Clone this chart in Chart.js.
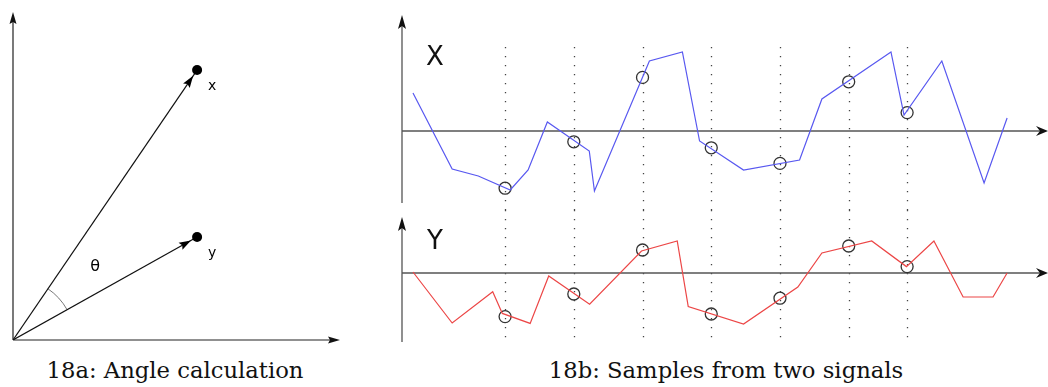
<!DOCTYPE html>
<html>
<head>
<meta charset="utf-8">
<script src="https://cdn.jsdelivr.net/npm/chart.js@4"></script>
<style>
  body { margin: 0; background: #fff; width: 1048px; height: 387px; position: relative; overflow: hidden; }
  canvas { position: absolute; }
  .caption { position: absolute; top: 357px; font-family: 'DejaVu Serif', serif; font-size: 22.7px; color: #111; white-space: nowrap; transform: translateX(-50%); }
</style>
</head>
<body>
<canvas id="angle" width="350" height="355" style="left:0;top:0"></canvas>
<canvas id="sigX" width="658" height="210" style="left:390px;top:0"></canvas>
<canvas id="sigY" width="658" height="140" style="left:390px;top:210px"></canvas>
<div class="caption" style="left:175px">18a: Angle calculation</div>
<div class="caption" style="left:726px">18b: Samples from two signals</div>
<script>
// 18a: two vectors from the origin
const vecNames = ['x', 'y'];
const vecX = [5.63, 5.63];
const vecY = [8.23, 3.14];

// 18b: signal X (time, value)
const xT   = [0.32, 1.46, 2.22, 3.15, 3.67, 4.23, 5.45, 5.6, 7.2, 8.16, 8.66, 9.94, 11.57, 12.22, 14.23, 14.61, 15.71, 16.94, 17.61];
const xVal = [0.95, -0.95, -1.125, -1.475, -0.975, 0.225, -0.5, -1.5, 1.75, 1.975, -0.25, -0.975, -0.725, 0.8, 1.975, 0.4, 1.75, -1.3, 0.325];

// 18b: signal Y (time, value)
const yT   = [0.32, 1.46, 2.64, 2.92, 3.73, 4.27, 5.46, 6.97, 8.01, 8.33, 9.94, 11.52, 12.22, 13.67, 14.68, 15.48, 16.33, 17.2, 17.61];
const yVal = [0.025, -1.25, -0.47, -1.01, -1.26, -0.075, -0.78, 0.55, 0.8, -0.84, -1.275, -0.35, 0.5, 0.8, 0.16, 0.8, -0.6, -0.6, 0];

// sampling instants and the sampled values
const sampleT = [3, 5, 7, 9, 11, 13, 14.7];
const sampleX = [-1.43, -0.27, 1.34, -0.42, -0.81, 1.23, 0.46];
const sampleY = [-1.09, -0.525, 0.575, -1.025, -0.63, 0.675, 0.16];

function pts(xs, ys) {
  return xs.map((x, i) => ({ x: x, y: ys[i] }));
}

function arrowHead(ctx, x, y, ang, len, wid, notch) {
  ctx.save();
  ctx.translate(x, y);
  ctx.rotate(ang);
  ctx.beginPath();
  ctx.moveTo(0, 0);
  ctx.lineTo(-len, -wid / 2);
  ctx.lineTo(-len + notch, 0);
  ctx.lineTo(-len, wid / 2);
  ctx.closePath();
  ctx.fill();
  ctx.restore();
}

function baseOptions(pad, xr, yr) {
  return {
    responsive: false,
    animation: false,
    events: [],
    layout: { padding: pad, autoPadding: false },
    plugins: { legend: { display: false }, tooltip: { enabled: false } },
    scales: {
      x: { type: 'linear', display: false, min: xr[0], max: xr[1] },
      y: { type: 'linear', display: false, min: yr[0], max: yr[1] }
    }
  };
}

// ---------- 18a ----------
const angleDecor = {
  id: 'angleDecor',
  beforeDatasetsDraw(chart) {
    const ctx = chart.ctx, a = chart.chartArea;
    const sx = chart.scales.x, sy = chart.scales.y;
    const ox = sx.getPixelForValue(0), oy = sy.getPixelForValue(0);
    ctx.save();
    ctx.strokeStyle = '#222';
    ctx.fillStyle = '#111';
    ctx.lineWidth = 1.2;
    ctx.beginPath();
    ctx.moveTo(ox, oy); ctx.lineTo(ox, a.top + 4);
    ctx.moveTo(ox, oy); ctx.lineTo(a.right - 4, oy);
    ctx.stroke();
    arrowHead(ctx, ox, a.top, -Math.PI / 2, 12, 7, 2);
    arrowHead(ctx, a.right, oy, 0, 12, 7, 2);

    // angle arc between the two vectors
    const angs = vecX.map((v, i) => Math.atan2(sy.getPixelForValue(vecY[i]) - oy, sx.getPixelForValue(v) - ox));
    ctx.strokeStyle = '#555';
    ctx.lineWidth = 0.8;
    ctx.beginPath();
    ctx.arc(ox, oy, 62, Math.min(...angs), Math.max(...angs));
    ctx.stroke();
    ctx.restore();
  },
  afterDatasetsDraw(chart) {
    const ctx = chart.ctx;
    const sx = chart.scales.x, sy = chart.scales.y;
    const ox = sx.getPixelForValue(0), oy = sy.getPixelForValue(0);
    ctx.save();
    ctx.fillStyle = '#000';
    vecX.forEach((v, i) => {
      const px = sx.getPixelForValue(v), py = sy.getPixelForValue(vecY[i]);
      const ang = Math.atan2(py - oy, px - ox);
      arrowHead(ctx, px - 7 * Math.cos(ang), py - 7 * Math.sin(ang), ang, 12, 8, 2);
      ctx.font = '14px "DejaVu Sans", sans-serif';
      ctx.textAlign = 'left';
      ctx.textBaseline = 'middle';
      ctx.fillText(vecNames[i], px + 11, py + 16);
    });
    ctx.font = '16px "DejaVu Sans", sans-serif';
    ctx.textAlign = 'center';
    ctx.textBaseline = 'middle';
    ctx.fillText('θ', sx.getPixelForValue(2.51), sy.getPixelForValue(2.23));
    ctx.restore();
  }
};

new Chart(document.getElementById('angle'), {
  type: 'scatter',
  data: {
    datasets: vecX.map((v, i) => ({
      data: [{ x: 0, y: 0 }, { x: v, y: vecY[i] }],
      showLine: true,
      borderColor: '#111',
      borderWidth: 1.2,
      backgroundColor: '#000',
      pointBorderWidth: 0,
      pointRadius: c => (c.dataIndex === 1 ? 5 : 0)
    }))
  },
  options: baseOptions({ left: 13, right: 10, top: 12, bottom: 15 }, [0, 10], [0, 10]),
  plugins: [angleDecor]
});

// ---------- 18b ----------
function signalDecor(label, labelAt, dotFrom, dotTo) {
  return {
    id: 'signalDecor',
    beforeDatasetsDraw(chart) {
      const ctx = chart.ctx, a = chart.chartArea;
      const sx = chart.scales.x, sy = chart.scales.y;
      const ax = sx.getPixelForValue(0), zy = sy.getPixelForValue(0);
      const top = dotFrom === null ? 0 : sy.getPixelForValue(dotFrom);
      const bot = dotTo === null ? chart.height : sy.getPixelForValue(dotTo);
      ctx.save();
      // dotted sampling lines
      ctx.strokeStyle = '#444';
      ctx.lineWidth = 1.3;
      ctx.setLineDash([1.3, 7.7]);
      sampleT.forEach(t => {
        const px = Math.round(sx.getPixelForValue(t)) + 0.5;
        ctx.beginPath();
        ctx.moveTo(px, top);
        ctx.lineTo(px, bot);
        ctx.stroke();
      });
      ctx.setLineDash([]);
      // axes
      ctx.strokeStyle = '#555';
      ctx.fillStyle = '#111';
      ctx.lineWidth = 1.3;
      ctx.beginPath();
      ctx.moveTo(ax, a.bottom); ctx.lineTo(ax, a.top + 6);
      ctx.moveTo(ax, zy); ctx.lineTo(a.right - 6, zy);
      ctx.stroke();
      arrowHead(ctx, ax, a.top, -Math.PI / 2, 14, 8, 3);
      arrowHead(ctx, a.right, zy, 0, 12, 10, 4);
      ctx.restore();
    },
    afterDatasetsDraw(chart) {
      const ctx = chart.ctx;
      ctx.save();
      ctx.fillStyle = '#111';
      ctx.font = '26px "DejaVu Sans", sans-serif';
      ctx.textAlign = 'center';
      ctx.textBaseline = 'middle';
      ctx.fillText(label, chart.scales.x.getPixelForValue(labelAt[0]), chart.scales.y.getPixelForValue(labelAt[1]));
      ctx.restore();
    }
  };
}

function signalChart(id, ts, vals, samples, color, yr, pad, decor) {
  new Chart(document.getElementById(id), {
    type: 'scatter',
    data: {
      datasets: [
        {
          data: pts(ts, vals),
          showLine: true,
          borderColor: color,
          borderWidth: 1.2,
          pointRadius: 0
        },
        {
          data: pts(sampleT, samples),
          showLine: false,
          pointRadius: 6,
          pointBorderWidth: 1.3,
          pointBorderColor: '#333',
          pointBackgroundColor: 'rgba(0,0,0,0)'
        }
      ]
    },
    options: baseOptions(pad, [0, 18.8], yr),
    plugins: [decor]
  });
}

signalChart('sigX', xT, xVal, sampleX, '#5858f0', [-1.8, 2.9], { left: 12, right: 0, top: 15, bottom: 7 },
  signalDecor('X', [0.96, 1.83], 2.1, null));
signalChart('sigY', yT, yVal, sampleY, '#ec4646', [-1.725, 1.4], { left: 12, right: 0, top: 7, bottom: 8 },
  signalDecor('Y', [0.96, 0.78], null, -1.63));
</script>
</body>
</html>
